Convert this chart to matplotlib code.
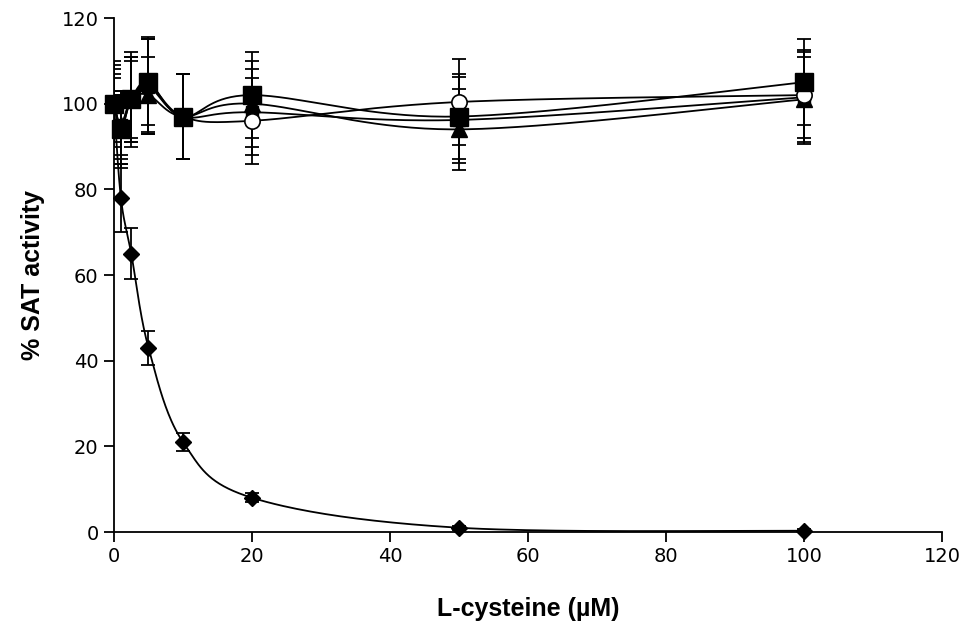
import numpy as np
import matplotlib
matplotlib.use("Agg")
import matplotlib.pyplot as plt

# L-cysteine concentrations (uM)
conc = [0, 1, 2.5, 5, 10, 20, 50, 100]

# % SAT activity for each enzyme variant
diamond = [100, 78, 65, 43, 21, 8, 1, 0.3]
diamond_err = [10, 8, 6, 4, 2, 1, 0.5, 0.3]

square = [100, 94, 101, 105, 97, 102, 97, 105]
square_err = [6, 8, 10, 10, 10, 10, 10, 10]

circle = [100, 94, 101, 104.5, 97, 96, 100.4, 102]
circle_err = [8, 9, 11, 11, 10, 10, 10, 10]

triangle = [100, 95, 101, 102, 97, 100, 94, 101]
triangle_err = [7, 8, 9, 9, 10, 10, 9.5, 10]

fourth = [100, 95, 101, 104, 97, 98, 96.2, 101.5]
fourth_err = [9, 7, 10, 11, 10, 10, 10, 11]


def smooth(xs, ys, n=40):
    # Excel-style smoothed line: cubic bezier with catmull-rom control points
    xs = np.asarray(xs, float)
    ys = np.asarray(ys, float)
    px, py = [], []
    m = len(xs)
    for i in range(m - 1):
        i0 = max(i - 1, 0)
        i3 = min(i + 2, m - 1)
        p0 = np.array([xs[i], ys[i]])
        p3 = np.array([xs[i + 1], ys[i + 1]])
        p1 = p0 + (p3 - np.array([xs[i0], ys[i0]])) / 6
        p2 = p3 - (np.array([xs[i3], ys[i3]]) - p0) / 6
        t = np.linspace(0, 1, n)[:, None]
        seg = ((1 - t) ** 3) * p0 + 3 * ((1 - t) ** 2) * t * p1 + 3 * (1 - t) * t ** 2 * p2 + t ** 3 * p3
        px.extend(seg[:, 0])
        py.extend(seg[:, 1])
    return px, py


fig = plt.figure(figsize=(9.76, 6.32), dpi=100)
ax = fig.add_axes([0.1168, 0.1582, 0.8484, 0.8133])

series = [
    (fourth, fourth_err, dict(marker='s', ms=9, mfc='black', mec='black')),
    (triangle, triangle_err, dict(marker='^', ms=11, mfc='black', mec='black')),
    (circle, circle_err, dict(marker='o', ms=11, mfc='white', mec='black', mew=1.2)),
    (square, square_err, dict(marker='s', ms=13, mfc='black', mec='black')),
    (diamond, diamond_err, dict(marker='D', ms=8, mfc='black', mec='black')),
]

for ys, err, mk in series:
    sx, sy = smooth(conc, ys)
    ax.plot(sx, sy, color='black', lw=1.3, zorder=2)
    ax.errorbar(conc, ys, yerr=err, fmt='none', ecolor='black', elinewidth=1.3,
                capsize=5, capthick=1.3, zorder=3)
    ax.plot(conc, ys, linestyle='none', zorder=4, clip_on=False, **mk)

ax.set_xlim(0, 120)
ax.set_ylim(0, 120)
ax.set_xticks(range(0, 121, 20))
ax.set_yticks(range(0, 121, 20))

for s in ['top', 'right']:
    ax.spines[s].set_visible(False)
for s in ['left', 'bottom']:
    ax.spines[s].set_linewidth(1.3)

ax.tick_params(axis='both', direction='out', length=7, width=1.3, labelsize=14, pad=4)

ax.set_xlabel('L-cysteine (µM)', fontsize=18, fontweight='bold',
              family='Liberation Sans', labelpad=22)
ax.set_ylabel('% SAT activity', fontsize=18, fontweight='bold',
              family='Liberation Sans', labelpad=12)

fig.savefig('out.png', dpi=100)
